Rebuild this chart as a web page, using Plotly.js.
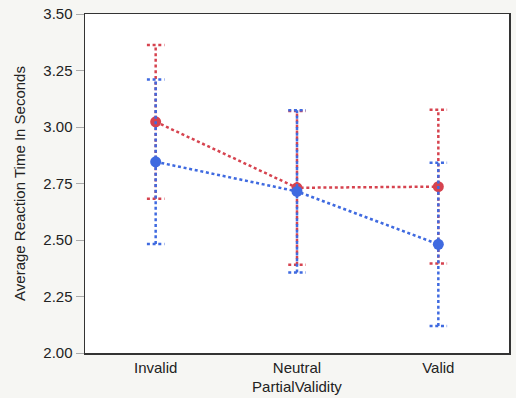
<!DOCTYPE html>
<html>
<head>
<meta charset="utf-8">
<script src="https://cdn.plot.ly/plotly-3.0.1.min.js"></script>
<style>html,body{margin:0;padding:0;background:#f6f6f3;}#chart{width:516px;height:398px;}</style>
</head>
<body>
<div id="chart"></div>
<script>
const categories = ['Invalid', 'Neutral', 'Valid'];
const redMean = [3.023, 2.731, 2.736];
const redErr = [0.340, 0.340, 0.340];
const blueMean = [2.846, 2.715, 2.481];
const blueErr = [0.364, 0.359, 0.361];

const RED = '#d6434f';
const BLUE = '#3f6ae0';
const DASH = '3px,2.7px';
const capHalf = 0.062;

function errTrace(means, errs, color) {
  const x = [], y = [];
  means.forEach((m, i) => {
    const lo = m - errs[i], hi = m + errs[i];
    x.push(i, i, null, i - capHalf, i + capHalf, null, i - capHalf, i + capHalf, null);
    y.push(lo, hi, null, hi, hi, null, lo, lo, null);
  });
  return {x, y, type: 'scatter', mode: 'lines', hoverinfo: 'skip',
    line: {color, width: 2.5, dash: DASH}, showlegend: false};
}
function meanTrace(means, color) {
  return {x: categories.map((c, i) => i), y: means, type: 'scatter', mode: 'lines+markers',
    line: {color, width: 2.5, dash: DASH}, marker: {color, size: 11}, showlegend: false};
}

const data = [
  errTrace(redMean, redErr, RED),
  meanTrace(redMean, RED),
  errTrace(blueMean, blueErr, BLUE),
  meanTrace(blueMean, BLUE)
];

const font = {family: 'Liberation Sans, Arial, sans-serif', size: 15, color: '#222'};
const layout = {
  width: 516, height: 398,
  margin: {l: 85, r: 7, t: 14, b: 45},
  paper_bgcolor: '#f6f6f3', plot_bgcolor: '#ffffff',
  font: font,
  showlegend: false,
  xaxis: {
    range: [-0.5, 2.5], tickvals: [0, 1, 2], ticktext: categories,
    showgrid: false, zeroline: false, showline: true, mirror: true,
    linecolor: '#333', linewidth: 1.5, ticks: '',
    tickfont: font,
    title: {text: 'PartialValidity', font: font, standoff: 7}
  },
  yaxis: {
    range: [2, 3.5], tickvals: [2, 2.25, 2.5, 2.75, 3, 3.25, 3.5], tickformat: '.2f',
    showgrid: false, zeroline: false, showline: true, mirror: true,
    linecolor: '#333', linewidth: 1.5, ticks: 'outside', ticklen: 8, tickcolor: '#aaa', tickwidth: 1,
    tickfont: font,
    title: {text: 'Average Reaction Time In Seconds', font: font, standoff: 14}
  }
};
Plotly.newPlot('chart', data, layout, {displayModeBar: false, staticPlot: true});
</script>
</body>
</html>
